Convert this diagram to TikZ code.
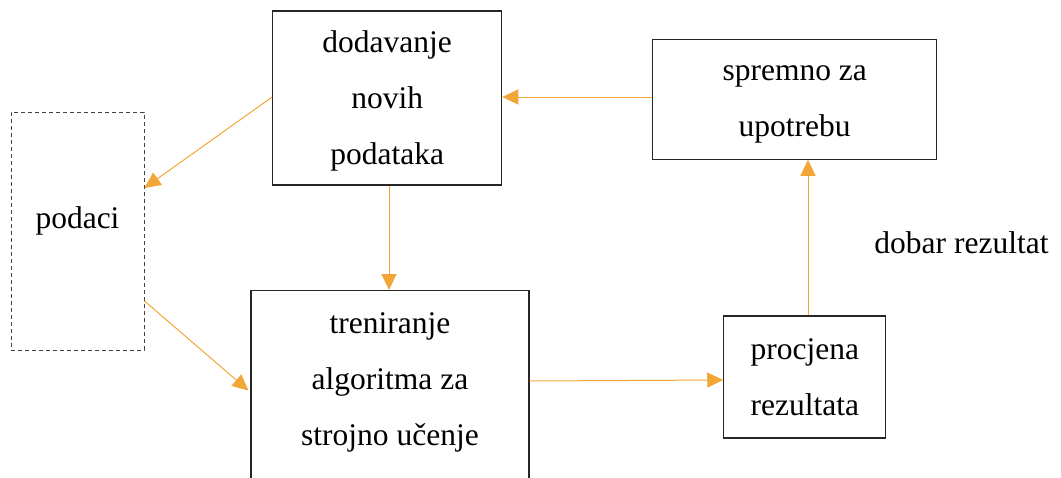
\documentclass[tikz,border=0pt]{standalone}
\usepackage{fontspec}
\setmainfont{Liberation Serif}
\usetikzlibrary{arrows.meta,positioning,calc}

\definecolor{flow}{RGB}{242,166,56}

\begin{document}
\begin{tikzpicture}[
  x=1pt,y=-1pt,
  every node/.style={font=\fontsize{31.5}{56}\selectfont},
  stage/.style={rectangle,draw=black!85,line width=1.1pt,align=center,inner sep=0pt},
  store/.style={rectangle,draw=black!75,line width=1pt,dash pattern=on 4pt off 3pt},
  arrow/.style={-{Triangle[length=16pt,width=15pt]},flow,line width=1pt}
]
\useasboundingbox (0,0) rectangle (1061,477);

% Data store (dashed)
\node[store,minimum width=133pt,minimum height=238pt,text depth=27pt] (data) at (77.5,231) {podaci};

% Process boxes
\node[stage,minimum width=229pt,minimum height=174pt,text height=140pt] (add) at (387.2,98) {dodavanje\\novih\\podataka};
\node[stage,minimum width=284pt,minimum height=120pt,text height=81pt] (ready) at (794.7,99.2) {spremno za\\upotrebu};
\node[stage,minimum width=278pt,minimum height=260pt,anchor=north] (train) at (390,290) {};
\node[align=center] (traintext) at (train.north |- 0,382) {treniranje\\algoritma za\\strojno učenje};
\node[stage,minimum width=162pt,minimum height=122pt] (eval) at (804.8,377) {procjena\\rezultata};

% Condition label
\node (good) at (961.5,243) {dobar rezultat};

% Flow arrows
\draw[arrow] ($(add.west)+(0,-1)$) -- ($(data.east)+(0,-43)$);
\draw[arrow] ($(data.east)+(0,70)$) -- ($(train.west)+(-2,-30)$);
\draw[arrow] (add.south -| 389,0) -- (train.north -| 389,0);
\draw[arrow] (train.east |- 0,381) -- (eval.west |- 0,380);
\draw[arrow] (eval.north -| 808,0) -- (ready.south -| 808,0);
\draw[arrow] (ready.west |- 0,97) -- (add.east |- 0,97);

\end{tikzpicture}
\end{document}
